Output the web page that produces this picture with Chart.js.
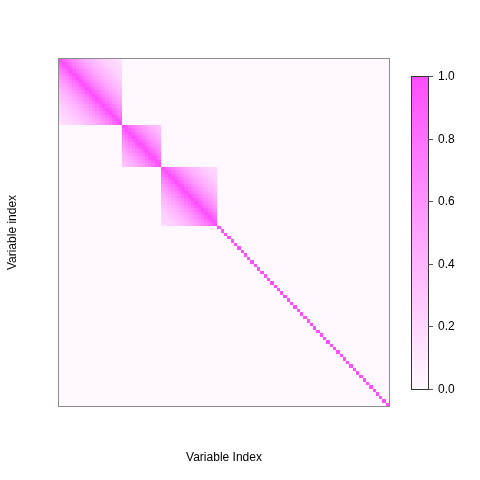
<!DOCTYPE html>
<html>
<head>
<meta charset="utf-8">
<script src="https://cdn.jsdelivr.net/npm/chart.js@4"></script>
<style>
  html, body { margin: 0; padding: 0; background: #ffffff; }
  #wrap { width: 480px; height: 480px; }
</style>
</head>
<body>
<div id="wrap"><canvas id="corrChart" width="480" height="480"></canvas></div>
<script>
// correlation structure
const nVariables = 100;
const blockSizes = [19, 12, 17];          // correlated groups, the rest are independent
const lagCorr = [1.00, 0.90, 0.81, 0.73, 0.66, 0.59, 0.53, 0.48, 0.43, 0.39,
                 0.35, 0.31, 0.28, 0.25, 0.23, 0.21, 0.19, 0.17, 0.15];
const offBlockCorr = 0.01;
const colorbarTicks = [0.0, 0.2, 0.4, 0.6, 0.8, 1.0];
const xTitle = 'Variable Index';
const yTitle = 'Variable index';

// group id for every variable
const groupOf = [];
let g = 0;
blockSizes.forEach(size => {
  for (let k = 0; k < size; k++) groupOf.push(g);
  g++;
});
while (groupOf.length < nVariables) groupOf.push(g++);

const cells = [];
for (let i = 0; i < nVariables; i++) {
  for (let j = 0; j < nVariables; j++) {
    let v = offBlockCorr;
    if (groupOf[i] === groupOf[j]) v = lagCorr[Math.abs(i - j)];
    cells.push({ x: i + 1, y: j + 1, v: v });
  }
}

const lowCol = [255, 250, 255];
const highCol = [255, 77, 255];
function colorFor(v) {
  const c = lowCol.map((lo, k) => Math.round(lo + (highCol[k] - lo) * v));
  return 'rgb(' + c.join(',') + ')';
}

const FONT = '12px "Liberation Sans", Arial, sans-serif';

const heatmapPlugin = {
  id: 'heatmap',
  beforeDatasetsDraw(chart) {
    const ctx = chart.ctx;
    const xs = chart.scales.x, ys = chart.scales.y;
    const area = chart.chartArea;
    ctx.save();
    cells.forEach(c => {
      const x0 = Math.round(xs.getPixelForValue(c.x - 0.5));
      const x1 = Math.round(xs.getPixelForValue(c.x + 0.5));
      const y0 = Math.round(ys.getPixelForValue(c.y - 0.5));
      const y1 = Math.round(ys.getPixelForValue(c.y + 0.5));
      ctx.fillStyle = colorFor(c.v);
      ctx.fillRect(Math.min(x0, x1), Math.min(y0, y1), Math.abs(x1 - x0), Math.abs(y1 - y0));
    });
    // box
    ctx.strokeStyle = '#8c8c8c';
    ctx.lineWidth = 1;
    ctx.strokeRect(area.left - 0.5, area.top - 0.5, area.right - area.left + 1, area.bottom - area.top + 1);

    // axis titles
    ctx.fillStyle = '#000000';
    ctx.font = FONT;
    ctx.textAlign = 'center';
    ctx.textBaseline = 'middle';
    ctx.fillText(xTitle, (area.left + area.right) / 2, 458);
    ctx.save();
    ctx.translate(13, (area.top + area.bottom) / 2);
    ctx.rotate(-Math.PI / 2);
    ctx.fillText(yTitle, 0, 0);
    ctx.restore();

    // colour bar
    const cbL = 411, cbR = 428, cbTop = 76, cbBot = 389;
    const cbY = v => cbBot - (cbBot - cbTop) * v;
    for (let p = cbTop; p < cbBot; p++) {
      const v = (cbBot - (p + 0.5)) / (cbBot - cbTop);
      ctx.fillStyle = colorFor(v);
      ctx.fillRect(cbL, p, cbR - cbL, 1);
    }
    ctx.strokeStyle = '#333333';
    ctx.strokeRect(cbL + 0.5, cbTop + 0.5, cbR - cbL, cbBot - cbTop);
    ctx.textAlign = 'left';
    colorbarTicks.forEach(t => {
      const y = Math.round(cbY(t)) + 0.5;
      ctx.strokeStyle = '#555555';
      ctx.beginPath();
      ctx.moveTo(cbR, y);
      ctx.lineTo(cbR + 5, y);
      ctx.stroke();
      ctx.fillStyle = '#000000';
      ctx.fillText(t.toFixed(1), 438, y);
    });
    ctx.restore();
  }
};

new Chart(document.getElementById('corrChart'), {
  type: 'scatter',
  data: { datasets: [{ data: [], pointRadius: 0 }] },
  options: {
    responsive: false,
    animation: false,
    events: [],
    layout: { padding: { left: 59, top: 59, right: 91, bottom: 74 } },
    plugins: { legend: { display: false }, tooltip: { enabled: false } },
    scales: {
      x: { type: 'linear', min: 0.5, max: nVariables + 0.5, display: false },
      y: { type: 'linear', min: 0.5, max: nVariables + 0.5, reverse: true, display: false }
    }
  },
  plugins: [heatmapPlugin]
});
</script>
</body>
</html>
